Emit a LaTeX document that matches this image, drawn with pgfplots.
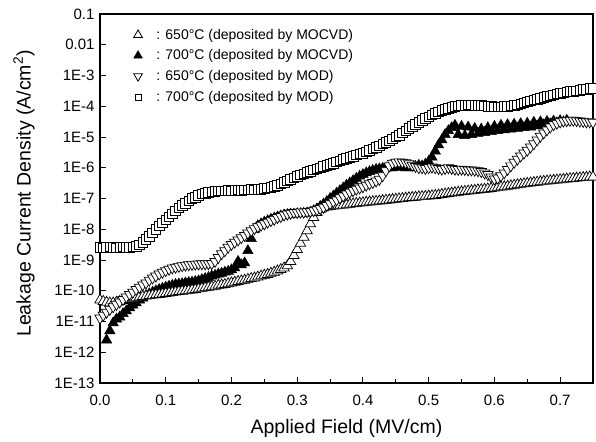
\documentclass[border=0pt]{standalone}
\usepackage{fontspec}
\setmainfont{Liberation Sans}
\usepackage{pgfplots}
\usepackage{pgfplotstable}
\pgfplotsset{compat=1.18}

% 700C, deposited by MOD (open squares)
\pgfplotstableread{
x y
0.000 2.6e-9
0.005 2.5e-9
0.010 2.6e-9
0.015 2.7e-9
0.020 2.6e-9
0.025 2.5e-9
0.030 2.6e-9
0.035 2.7e-9
0.040 2.6e-9
0.045 2.6e-9
0.050 2.7e-9
0.055 2.8e-9
0.060 3.1e-9
0.065 3.8e-9
0.070 4.7e-9
0.075 6.0e-9
0.080 7.6e-9
0.085 1.0e-8
0.090 1.3e-8
0.095 1.6e-8
0.100 2.0e-8
0.105 2.5e-8
0.110 3.2e-8
0.115 4.0e-8
0.120 5.0e-8
0.125 6.0e-8
0.130 7.1e-8
0.135 8.3e-8
0.140 1.0e-7
0.145 1.1e-7
0.150 1.25e-7
0.155 1.4e-7
0.160 1.5e-7
0.165 1.6e-7
0.170 1.65e-7
0.175 1.7e-7
0.180 1.75e-7
0.185 1.8e-7
0.190 1.8e-7
0.195 1.85e-7
0.200 1.8e-7
0.205 1.85e-7
0.210 1.9e-7
0.215 1.85e-7
0.220 1.9e-7
0.225 1.9e-7
0.230 1.95e-7
0.235 1.9e-7
0.240 2.0e-7
0.245 2.0e-7
0.250 2.1e-7
0.255 2.2e-7
0.260 2.3e-7
0.265 2.5e-7
0.270 2.7e-7
0.275 3.0e-7
0.280 3.3e-7
0.285 3.7e-7
0.290 4.2e-7
0.295 4.7e-7
0.300 5.2e-7
0.305 5.8e-7
0.310 6.4e-7
0.315 7.0e-7
0.320 7.8e-7
0.325 8.5e-7
0.330 9.3e-7
0.335 1.0e-6
0.340 1.1e-6
0.345 1.2e-6
0.350 1.3e-6
0.355 1.4e-6
0.360 1.55e-6
0.365 1.7e-6
0.370 1.85e-6
0.375 2.0e-6
0.380 2.2e-6
0.385 2.4e-6
0.390 2.6e-6
0.395 2.8e-6
0.400 3.0e-6
0.405 3.3e-6
0.410 3.7e-6
0.415 4.1e-6
0.420 4.6e-6
0.425 5.2e-6
0.430 5.9e-6
0.435 6.7e-6
0.440 7.6e-6
0.445 8.7e-6
0.450 1.0e-5
0.455 1.15e-5
0.460 1.35e-5
0.465 1.6e-5
0.470 1.9e-5
0.475 2.2e-5
0.480 2.6e-5
0.485 3.0e-5
0.490 3.5e-5
0.495 4.0e-5
0.500 4.5e-5
0.505 5.2e-5
0.510 5.9e-5
0.515 6.6e-5
0.520 7.2e-5
0.525 8.0e-5
0.530 8.7e-5
0.535 9.3e-5
0.540 9.8e-5
0.545 1.02e-4
0.550 1.05e-4
0.555 1.08e-4
0.560 1.1e-4
0.565 1.1e-4
0.570 1.08e-4
0.575 1.07e-4
0.580 1.05e-4
0.585 1.03e-4
0.590 1.0e-4
0.595 9.8e-5
0.600 9.6e-5
0.605 9.5e-5
0.610 9.6e-5
0.615 9.8e-5
0.620 1.0e-4
0.625 1.03e-4
0.630 1.07e-4
0.635 1.12e-4
0.640 1.2e-4
0.645 1.3e-4
0.650 1.4e-4
0.655 1.5e-4
0.660 1.6e-4
0.665 1.7e-4
0.670 1.8e-4
0.675 1.95e-4
0.680 2.1e-4
0.685 2.2e-4
0.690 2.35e-4
0.695 2.5e-4
0.700 2.6e-4
0.705 2.75e-4
0.710 2.9e-4
0.715 3.0e-4
0.720 3.1e-4
0.725 3.2e-4
0.730 3.35e-4
0.735 3.5e-4
0.740 3.6e-4
0.745 3.75e-4
0.750 3.9e-4
}\modseven

% 650C, deposited by MOD (open down triangles)
\pgfplotstableread{
x y
0.000 1.3e-11
0.005 1.6e-11
0.010 2.0e-11
0.015 2.5e-11
0.020 3.0e-11
0.025 3.6e-11
0.030 4.3e-11
0.035 5.2e-11
0.040 6.3e-11
0.045 7.6e-11
0.050 9.0e-11
0.055 1.1e-10
0.060 1.3e-10
0.065 1.55e-10
0.070 1.8e-10
0.075 2.2e-10
0.080 2.6e-10
0.085 3.0e-10
0.090 3.5e-10
0.095 4.0e-10
0.100 4.5e-10
0.105 5.0e-10
0.110 5.5e-10
0.115 5.8e-10
0.120 6.2e-10
0.125 6.5e-10
0.130 6.8e-10
0.135 7.0e-10
0.140 7.2e-10
0.145 7.3e-10
0.150 7.4e-10
0.155 7.5e-10
0.160 7.5e-10
0.165 7.6e-10
0.170 7.7e-10
0.175 9.0e-10
0.180 1.2e-9
0.185 1.6e-9
0.190 2.0e-9
0.195 2.6e-9
0.200 3.2e-9
0.205 3.8e-9
0.210 4.5e-9
0.215 5.3e-9
0.220 6.3e-9
0.225 7.5e-9
0.230 8.9e-9
0.235 1.05e-8
0.240 1.2e-8
0.245 1.35e-8
0.250 1.5e-8
0.255 1.7e-8
0.260 1.9e-8
0.265 2.1e-8
0.270 2.4e-8
0.275 2.6e-8
0.280 2.9e-8
0.285 3.1e-8
0.290 3.3e-8
0.295 3.5e-8
0.300 3.5e-8
0.305 3.6e-8
0.310 3.6e-8
0.315 3.7e-8
0.320 3.8e-8
0.325 4.0e-8
0.330 4.3e-8
0.335 4.7e-8
0.340 5.2e-8
0.345 5.9e-8
0.350 6.8e-8
0.355 7.9e-8
0.360 9.0e-8
0.365 1.05e-7
0.370 1.2e-7
0.375 1.4e-7
0.380 1.6e-7
0.385 1.8e-7
0.390 2.0e-7
0.395 2.2e-7
0.400 2.4e-7
0.405 2.7e-7
0.410 3.0e-7
0.415 3.3e-7
0.420 3.7e-7
0.425 4.2e-7
0.430 5.5e-7
0.435 8.0e-7
0.440 1.15e-6
0.445 1.4e-6
0.450 1.5e-6
0.455 1.55e-6
0.460 1.5e-6
0.465 1.45e-6
0.470 1.35e-6
0.475 1.2e-6
0.480 1.1e-6
0.485 1.0e-6
0.490 1.0e-6
0.495 9.5e-7
0.500 1.0e-6
0.505 1.05e-6
0.510 1.0e-6
0.515 9.5e-7
0.520 9.0e-7
0.525 9.5e-7
0.530 1.0e-6
0.535 9.5e-7
0.540 9.0e-7
0.545 8.8e-7
0.550 9.0e-7
0.555 8.8e-7
0.560 8.5e-7
0.565 8.5e-7
0.570 8.3e-7
0.575 8.0e-7
0.580 7.5e-7
0.585 6.8e-7
0.590 6.0e-7
0.595 5.0e-7
0.600 4.3e-7
0.605 4.6e-7
0.610 5.5e-7
0.615 6.8e-7
0.620 8.8e-7
0.625 1.15e-6
0.630 1.5e-6
0.635 1.9e-6
0.640 2.4e-6
0.645 3.0e-6
0.650 3.7e-6
0.655 4.7e-6
0.660 6.0e-6
0.665 8.0e-6
0.670 1.05e-5
0.675 1.35e-5
0.680 1.7e-5
0.685 2.1e-5
0.690 2.5e-5
0.695 2.8e-5
0.700 3.1e-5
0.705 3.3e-5
0.710 3.4e-5
0.715 3.5e-5
0.720 3.5e-5
0.725 3.4e-5
0.730 3.3e-5
0.735 3.2e-5
0.740 3.1e-5
0.745 3.1e-5
0.750 3.0e-5
}\modsix

% 650C, deposited by MOCVD (open up triangles)
\pgfplotstableread{
x y
0.000 5.0e-11
0.005 4.5e-11
0.010 4.2e-11
0.015 4.0e-11
0.020 4.0e-11
0.025 4.2e-11
0.030 4.5e-11
0.035 4.8e-11
0.040 5.2e-11
0.045 5.5e-11
0.050 5.8e-11
0.055 6.1e-11
0.060 6.3e-11
0.065 6.5e-11
0.070 6.7e-11
0.075 7.0e-11
0.080 7.2e-11
0.085 7.4e-11
0.090 7.6e-11
0.095 7.9e-11
0.100 8.2e-11
0.105 8.5e-11
0.110 8.8e-11
0.115 9.1e-11
0.120 9.4e-11
0.125 9.7e-11
0.130 1.0e-10
0.135 1.03e-10
0.140 1.06e-10
0.145 1.1e-10
0.150 1.15e-10
0.155 1.2e-10
0.160 1.25e-10
0.165 1.3e-10
0.170 1.35e-10
0.175 1.4e-10
0.180 1.5e-10
0.185 1.55e-10
0.190 1.6e-10
0.195 1.7e-10
0.200 1.8e-10
0.205 1.9e-10
0.210 2.0e-10
0.215 2.1e-10
0.220 2.2e-10
0.225 2.35e-10
0.230 2.5e-10
0.235 2.6e-10
0.240 2.8e-10
0.245 3.0e-10
0.250 3.2e-10
0.255 3.4e-10
0.260 3.7e-10
0.265 4.0e-10
0.270 4.4e-10
0.275 4.9e-10
0.280 5.5e-10
0.285 6.5e-10
0.290 9.0e-10
0.295 1.4e-9
0.300 2.2e-9
0.305 3.5e-9
0.310 5.5e-9
0.315 9.0e-9
0.320 1.5e-8
0.325 2.4e-8
0.330 3.5e-8
0.335 4.5e-8
0.340 5.0e-8
0.345 5.3e-8
0.350 5.5e-8
0.355 5.7e-8
0.360 5.8e-8
0.365 6.0e-8
0.370 6.1e-8
0.375 6.3e-8
0.380 6.5e-8
0.385 6.7e-8
0.390 6.9e-8
0.395 7.1e-8
0.400 7.3e-8
0.405 7.5e-8
0.410 7.7e-8
0.415 7.9e-8
0.420 8.1e-8
0.425 8.3e-8
0.430 8.5e-8
0.435 8.8e-8
0.440 9.0e-8
0.445 9.3e-8
0.450 9.5e-8
0.455 9.8e-8
0.460 1.0e-7
0.465 1.03e-7
0.470 1.06e-7
0.475 1.08e-7
0.480 1.1e-7
0.485 1.13e-7
0.490 1.15e-7
0.495 1.18e-7
0.500 1.2e-7
0.505 1.23e-7
0.510 1.26e-7
0.515 1.3e-7
0.520 1.35e-7
0.525 1.4e-7
0.530 1.45e-7
0.535 1.5e-7
0.540 1.55e-7
0.545 1.6e-7
0.550 1.65e-7
0.555 1.7e-7
0.560 1.75e-7
0.565 1.8e-7
0.570 1.85e-7
0.575 1.9e-7
0.580 1.95e-7
0.585 2.0e-7
0.590 2.05e-7
0.595 2.1e-7
0.600 2.2e-7
0.605 2.3e-7
0.610 2.35e-7
0.615 2.4e-7
0.620 2.5e-7
0.625 2.6e-7
0.630 2.7e-7
0.635 2.8e-7
0.640 2.9e-7
0.645 3.0e-7
0.650 3.1e-7
0.655 3.2e-7
0.660 3.3e-7
0.665 3.4e-7
0.670 3.5e-7
0.675 3.6e-7
0.680 3.7e-7
0.685 3.8e-7
0.690 3.9e-7
0.695 4.0e-7
0.700 4.1e-7
0.705 4.2e-7
0.710 4.3e-7
0.715 4.4e-7
0.720 4.5e-7
0.725 4.6e-7
0.730 4.7e-7
0.735 4.8e-7
0.740 4.9e-7
0.745 5.0e-7
0.750 5.0e-7
}\mocvdsix

% 700C, deposited by MOCVD (filled up triangles)
\pgfplotstableread{
x y
0.010 2.5e-12
0.015 5.0e-12
0.020 9.0e-12
0.025 1.2e-11
0.030 1.4e-11
0.035 1.8e-11
0.040 2.2e-11
0.045 2.8e-11
0.050 3.4e-11
0.055 4.0e-11
0.060 5.0e-11
0.065 5.8e-11
0.070 7.0e-11
0.075 8.0e-11
0.080 9.0e-11
0.085 1.0e-10
0.090 1.1e-10
0.095 1.2e-10
0.100 1.3e-10
0.105 1.4e-10
0.110 1.5e-10
0.115 1.6e-10
0.120 1.65e-10
0.125 1.7e-10
0.130 1.8e-10
0.135 1.85e-10
0.140 1.9e-10
0.145 2.0e-10
0.150 2.1e-10
0.155 2.3e-10
0.160 2.5e-10
0.165 2.7e-10
0.170 3.0e-10
0.175 3.2e-10
0.180 3.5e-10
0.185 3.7e-10
0.190 4.0e-10
0.195 4.3e-10
0.200 4.8e-10
0.205 5.5e-10
0.210 9.0e-10
0.215 7.0e-10
0.220 8.0e-10
0.225 2.0e-9
0.230 5.0e-9
0.235 1.0e-8
0.240 1.3e-8
0.245 1.5e-8
0.250 1.7e-8
0.255 1.9e-8
0.260 2.1e-8
0.265 2.3e-8
0.270 2.5e-8
0.275 2.7e-8
0.280 2.9e-8
0.285 3.0e-8
0.290 3.1e-8
0.295 3.1e-8
0.300 3.2e-8
0.305 3.2e-8
0.310 3.3e-8
0.315 3.4e-8
0.320 3.6e-8
0.325 4.0e-8
0.330 4.6e-8
0.335 5.5e-8
0.340 6.6e-8
0.345 8.0e-8
0.350 1.0e-7
0.355 1.2e-7
0.360 1.5e-7
0.365 1.8e-7
0.370 2.2e-7
0.375 2.7e-7
0.380 3.2e-7
0.385 3.8e-7
0.390 4.5e-7
0.395 5.3e-7
0.400 6.0e-7
0.405 6.8e-7
0.410 7.5e-7
0.415 8.2e-7
0.420 8.8e-7
0.425 9.2e-7
0.430 9.5e-7
0.435 9.8e-7
0.440 1.0e-6
0.445 1.0e-6
0.450 1.05e-6
0.455 1.1e-6
0.460 1.05e-6
0.465 1.0e-6
0.470 1.0e-6
0.475 1.05e-6
0.480 1.1e-6
0.485 1.2e-6
0.490 1.15e-6
0.495 1.3e-6
0.500 1.6e-6
0.505 2.2e-6
0.510 3.5e-6
0.515 5.5e-6
0.520 8.0e-6
0.525 1.2e-5
0.530 1.6e-5
0.535 2.0e-5
0.540 2.4e-5
0.545 1.2e-5
0.550 2.2e-5
0.555 1.1e-5
0.560 2.1e-5
0.565 1.2e-5
0.570 1.9e-5
0.575 1.3e-5
0.580 1.8e-5
0.585 1.4e-5
0.590 2.0e-5
0.595 1.5e-5
0.600 2.2e-5
0.605 1.6e-5
0.610 2.4e-5
0.615 1.7e-5
0.620 2.5e-5
0.625 1.8e-5
0.630 2.6e-5
0.635 1.9e-5
0.640 2.7e-5
0.645 2.0e-5
0.650 2.8e-5
0.655 2.1e-5
0.660 3.0e-5
0.665 2.3e-5
0.670 3.1e-5
0.675 2.5e-5
0.680 3.2e-5
0.685 2.7e-5
0.690 3.3e-5
0.695 2.9e-5
0.700 3.4e-5
0.705 3.1e-5
0.710 3.5e-5
}\mocvdseven

\begin{document}
\begin{tikzpicture}
\begin{axis}[
  scale only axis,
  width=493pt, height=369pt,
  xmin=0, xmax=0.75,
  ymode=log, ymin=1e-13, ymax=0.1,
  xtick={0,0.1,0.2,0.3,0.4,0.5,0.6,0.7},
  minor x tick num=1,
  ytick={1e-13,1e-12,1e-11,1e-10,1e-9,1e-8,1e-7,1e-6,1e-5,1e-4,1e-3,1e-2,1e-1},
  yticklabels={1E-13,1E-12,1E-11,1E-10,1E-9,1E-8,1E-7,1E-6,1E-5,1E-4,1E-3,0.01,0.1},
  yminorticks=false,
  xtick pos=bottom, ytick pos=left,
  tick align=inside,
  major tick length=6pt, minor tick length=4pt,
  tick style={line width=1pt, black},
  axis line style={line width=1.2pt},
  /pgf/number format/assume math mode=true,
  xticklabel style={/pgf/number format/.cd, fixed, fixed zerofill, precision=1, /tikz/.cd, yshift=-8pt},
  yticklabel style={xshift=-2pt},
  tick label style={font=\fontsize{15}{17}\selectfont},
  xlabel={Applied Field (MV/cm)},
  ylabel={Leakage Current Density (A/cm\textsuperscript{2})},
  label style={font=\fontsize{19.5}{22}\selectfont},
  xlabel style={at={(axis description cs:0.5,0)}, anchor=center, yshift=-45pt},
  ylabel style={at={(axis description cs:0,0.5)}, anchor=center, yshift=76pt, xshift=5pt},
  legend style={draw=none, fill=none, at={(0.068,0.965)}, anchor=north west,
    font=\fontsize{14}{16}\selectfont, row sep=5pt, inner sep=0pt},
  legend cell align=left,
]
\addlegendimage{only marks, mark=triangle, mark size=5pt, mark options={fill=white, draw=black, line width=0.8pt}}
\addlegendentry{\hspace{12pt}: 650°C (deposited by MOCVD)}
\addlegendimage{only marks, mark=triangle*, mark size=5pt, mark options={fill=black, draw=black}}
\addlegendentry{\hspace{12pt}: 700°C (deposited by MOCVD)}
\addlegendimage{only marks, mark=triangle, mark size=5pt, mark options={rotate=180, fill=white, draw=black, line width=0.8pt}}
\addlegendentry{\hspace{12pt}: 650°C (deposited by MOD)}
\addlegendimage{only marks, mark=square, mark size=3pt, mark options={fill=white, draw=black, line width=0.6pt}}
\addlegendentry{\hspace{12pt}: 700°C (deposited by MOD)}

\addplot[forget plot, only marks, mark=triangle*, mark size=6pt, mark options={fill=black, draw=black, line width=0.5pt}] table[x=x, y=y] {\mocvdseven};
\addplot[forget plot, only marks, mark=triangle*, mark size=6pt, mark options={fill=white, draw=black, line width=0.7pt}] table[x=x, y=y] {\mocvdsix};
\addplot[forget plot, only marks, mark=triangle*, mark size=6pt, mark options={rotate=180, fill=white, draw=black, line width=0.7pt}] table[x=x, y=y] {\modsix};
\addplot[forget plot, only marks, mark=square*, mark size=4.8pt, mark options={fill=white, draw=black, line width=0.7pt}] table[x=x, y=y] {\modseven};

\coordinate (SW) at (rel axis cs:0,0);
\coordinate (NE) at (rel axis cs:1,1);
\end{axis}
\pgfresetboundingbox
\path[use as bounding box] ([shift={(-100pt,-58pt)}]SW) rectangle ([shift={(3pt,14pt)}]NE);
\end{tikzpicture}
\end{document}
